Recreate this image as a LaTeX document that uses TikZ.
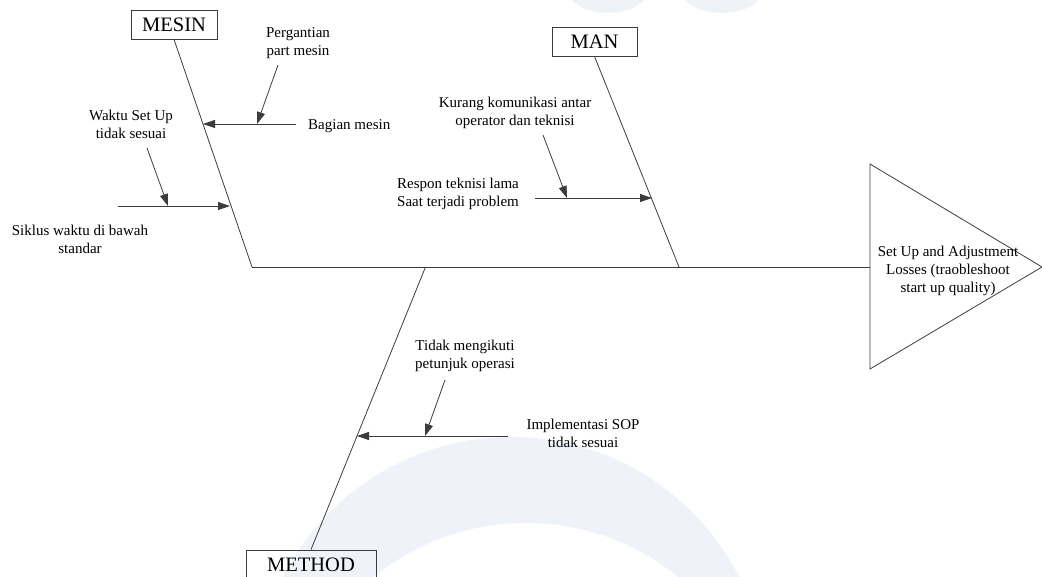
\documentclass[tikz,border=0pt]{standalone}
\usepackage{fontspec}
\setmainfont{Liberation Serif}
\usetikzlibrary{arrows.meta}
\definecolor{wm}{RGB}{239,243,249}
\definecolor{ln}{RGB}{60,60,60}
\tikzset{
  bone/.style={draw=ln, line width=0.8pt},
  cause/.style={draw=ln, line width=0.8pt, -{Triangle[length=12pt,width=8pt]}},
  boxlabel/.style={draw=ln, line width=0.8pt, inner sep=0pt, minimum height=29pt, font=\fontsize{20.5}{22}\selectfont},
  lbl/.style={inner sep=0pt, align=center, font=\fontsize{15}{18}\selectfont},
  lbll/.style={inner sep=0pt, align=left, font=\fontsize{15}{18}\selectfont}
}
\begin{document}
\begin{tikzpicture}[x=1pt,y=-1pt]
\useasboundingbox (0,0) rectangle (1042,577);
\begin{scope}
\clip (0,0) rectangle (1042,577);
% faint watermark
\fill[wm] (511,693) circle (256);
\fill[white] (526,764) circle (241);
\fill[wm] (608,-10) ellipse (40 and 23);
\fill[wm] (722,-10) ellipse (41 and 23);

% category boxes
\node[boxlabel, minimum width=86pt] (mesin) at (174,24.5) {MESIN};
\node[boxlabel, minimum width=85pt] (man) at (594.5,41.5) {MAN};
\node[boxlabel, minimum width=130pt] (method) at (311,564.5) {METHOD};

% spine and head
\coordinate (jm) at (252,267);
\coordinate (jn) at (679,267);
\coordinate (jt) at (425.5,267);
\coordinate (hl) at (870,267);
\coordinate (ht) at (870,164);
\coordinate (ha) at (1042,267);
\coordinate (hb) at (870,369);
\draw[bone] (jm) -- (hl);
\draw[bone] (ht) -- (ha) -- (hb) -- cycle;
\node[lbl] (effect) at (948,271) {Set Up and Adjustment\\Losses (traobleshoot\\start up quality)};

% bones
\draw[bone] (mesin.south) -- (jm);
\draw[bone] (man.south) -- (jn);
\draw[bone] (method.north) -- (jt);

% MESIN causes
\coordinate (a1s) at (296,124);
\coordinate (a1t) at (203,124);
\coordinate (a1m) at (257,124);
\coordinate (a1k) at (278,65);
\draw[cause] (a1s) -- (a1t);
\draw[cause] (a1k) -- (a1m);
\node[lbl] (pergantian) at (298,43) {Pergantian\\part mesin};
\node[lbll, anchor=west] (bagian) at (308,126) {Bagian mesin};

\coordinate (a2s) at (118,206);
\coordinate (a2t) at (230,206);
\coordinate (a2m) at (168,206);
\coordinate (a2k) at (147,148);
\draw[cause] (a2s) -- (a2t);
\draw[cause] (a2k) -- (a2m);
\node[lbl] (waktu) at (131,124.5) {Waktu Set Up\\tidak sesuai};
\node[lbl] (siklus) at (80,239) {Siklus waktu di bawah\\standar};

% MAN causes
\coordinate (b1s) at (535,198);
\coordinate (b1t) at (652,198);
\coordinate (b1m) at (567,198);
\coordinate (b1k) at (543,135);
\draw[cause] (b1s) -- (b1t);
\draw[cause] (b1k) -- (b1m);
\node[lbl] (kurang) at (515,112.5) {Kurang komunikasi antar\\operator dan teknisi};
\node[lbll, anchor=west] (respon) at (397,193.5) {Respon teknisi lama\\Saat terjadi problem};

% METHOD causes
\coordinate (c1s) at (508,436);
\coordinate (c1t) at (357,436);
\coordinate (c1m) at (425,436);
\coordinate (c1k) at (445,380);
\draw[cause] (c1s) -- (c1t);
\draw[cause] (c1k) -- (c1m);
\node[lbl] (tidak) at (465,356) {Tidak mengikuti\\petunjuk operasi};
\node[lbl] (implementasi) at (583,433) {Implementasi SOP\\tidak sesuai};
\end{scope}
\end{tikzpicture}
\end{document}
